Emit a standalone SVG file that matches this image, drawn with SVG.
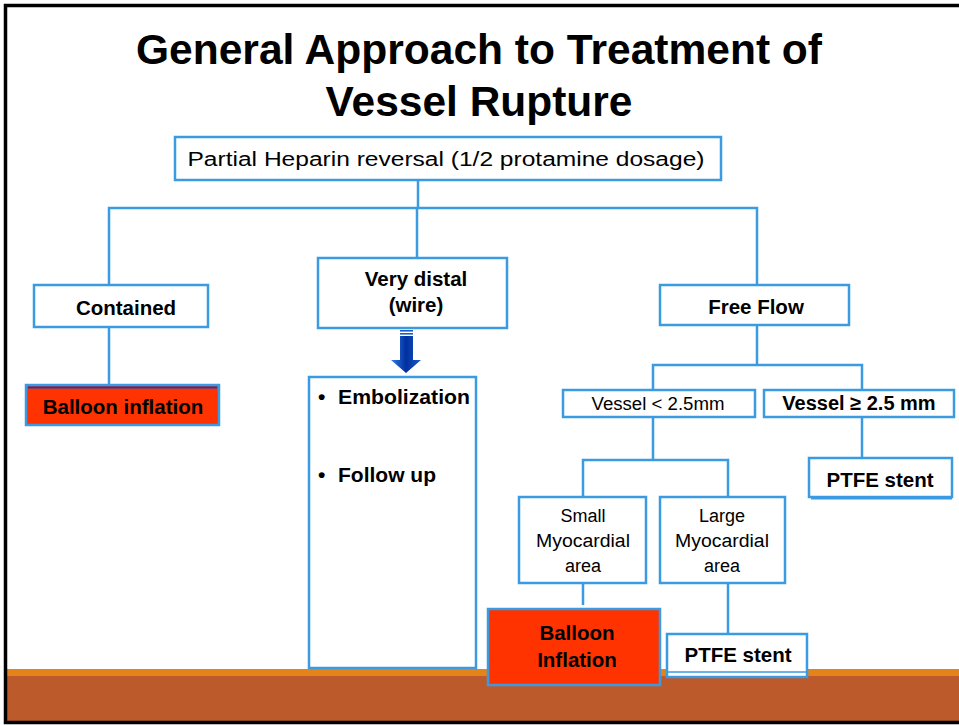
<svg xmlns="http://www.w3.org/2000/svg" width="959" height="725" viewBox="0 0 959 725">
<style>
.box{fill:#fff;stroke:#3A9BE2;stroke-width:2.5}
.red{fill:#FF3300;stroke:#3A9BE2;stroke-width:2.5}
.con{fill:none;stroke:#3A9BE2;stroke-width:2.5}
.b{font-family:"Liberation Sans",Arial,sans-serif;font-weight:bold;font-size:20.5px;fill:#000;text-anchor:middle}
.bl{font-family:"Liberation Sans",Arial,sans-serif;font-weight:bold;font-size:21px;fill:#000}
.r{font-family:"Liberation Sans",Arial,sans-serif;font-size:18px;fill:#000;text-anchor:middle}
.t{font-family:"Liberation Sans",Arial,sans-serif;font-weight:bold;font-size:42px;fill:#000;text-anchor:middle}
</style>
<defs>
<linearGradient id="ag" x1="0" y1="0" x2="1" y2="0">
<stop offset="0" stop-color="#2F7FE6"/>
<stop offset="0.5" stop-color="#002F9E"/>
<stop offset="1" stop-color="#1A5CC8"/>
</linearGradient>
</defs>
<rect x="0" y="0" width="959" height="725" fill="#fff"/>
<rect x="7" y="669" width="952" height="8" fill="#E4831A"/>
<rect x="7" y="676" width="952" height="46" fill="#BD5A2C"/>
<rect x="5.5" y="5.5" width="960" height="717" fill="none" stroke="#000" stroke-width="3.5"/>
<g id="title">
<text class="t" x="479" y="64" textLength="686" lengthAdjust="spacingAndGlyphs">General Approach to Treatment of</text>
<text class="t" x="479" y="116" textLength="307" lengthAdjust="spacingAndGlyphs">Vessel Rupture</text>
</g>
<g id="connectors">
<path class="con" d="M418 180V208M109 285V208H757V285M417 208V258"/>
<path class="con" d="M109 327V385"/>
<path class="con" d="M757 325V365M653 390V365H862V390"/>
<path class="con" d="M653 417V460M583 497V460H728V497"/>
<path class="con" d="M862 417V458"/>
<path class="con" d="M583 583V605"/>
<path class="con" d="M728 583V634"/>
<g id="arrow">
<rect x="400" y="330" width="13" height="1.6" fill="#1A5CC8"/>
<rect x="400" y="333" width="13" height="1.6" fill="#1A5CC8"/>
<polygon points="400,336 413,336 413,360 421,360 406,373 391,360 400,360" fill="url(#ag)"/>
</g>
</g>
<g id="heparin">
<rect class="box" x="175" y="137" width="546" height="43"/>
<text class="r" x="446" y="166" style="font-size:20px" textLength="517" lengthAdjust="spacingAndGlyphs">Partial Heparin reversal (1/2 protamine dosage)</text>
</g>
<g id="contained">
<rect class="box" x="34" y="285" width="174" height="42"/>
<text class="b" x="126" y="315">Contained</text>
</g>
<g id="balloon1">
<rect class="red" x="26" y="385" width="193" height="40"/>
<line x1="28" y1="387.5" x2="217" y2="387.5" stroke="#1B3CB8" stroke-width="2"/>
<text class="b" x="123" y="414">Balloon inflation</text>
</g>
<g id="distal">
<rect class="box" x="318" y="258" width="189" height="70"/>
<text class="b" x="416" y="286">Very distal</text>
<text class="b" x="416" y="312">(wire)</text>
</g>
<g id="emboli">
<rect class="box" x="309" y="377" width="167" height="291"/>
<text class="bl" x="318" y="404">•</text>
<text class="bl" x="338" y="404" textLength="132" lengthAdjust="spacingAndGlyphs">Embolization</text>
<text class="bl" x="318" y="482">•</text>
<text class="bl" x="338" y="482">Follow up</text>
</g>
<g id="freeflow">
<rect class="box" x="660" y="285" width="189" height="40"/>
<text class="b" x="756" y="314">Free Flow</text>
</g>
<g id="vsmall">
<rect class="box" x="563" y="390" width="192" height="27"/>
<text class="r" x="658" y="410" textLength="133" lengthAdjust="spacingAndGlyphs">Vessel &lt; 2.5mm</text>
</g>
<g id="vlarge">
<rect class="box" x="764" y="390" width="190" height="27"/>
<text class="b" x="859" y="410" style="font-size:20px">Vessel ≥ 2.5 mm</text>
</g>
<g id="ptfe1">
<rect class="box" x="809" y="458" width="143" height="39"/>
<line x1="811" y1="498" x2="952" y2="498" stroke="#3A9BE2" stroke-width="3"/>
<text class="b" x="880" y="487">PTFE stent</text>
</g>
<g id="smallmyo">
<rect class="box" x="519" y="497" width="127" height="86"/>
<text class="r" x="583" y="522">Small</text>
<text class="r" x="583" y="547" textLength="94" lengthAdjust="spacingAndGlyphs">Myocardial</text>
<text class="r" x="583" y="572">area</text>
</g>
<g id="largemyo">
<rect class="box" x="660" y="497" width="125" height="86"/>
<text class="r" x="722" y="522">Large</text>
<text class="r" x="722" y="547" textLength="94" lengthAdjust="spacingAndGlyphs">Myocardial</text>
<text class="r" x="722" y="572">area</text>
</g>
<g id="balloon2">
<rect class="red" x="488" y="609" width="172" height="76"/>
<text class="b" x="577" y="640">Balloon</text>
<text class="b" x="577" y="667">Inflation</text>
</g>
<g id="ptfe2">
<rect x="667" y="634" width="140" height="43" fill="#fff" stroke="#3A9BE2" stroke-width="2.5"/>
<line x1="668" y1="672" x2="806" y2="672" stroke="#3A9BE2" stroke-width="1.5"/>
<text class="b" x="738" y="662">PTFE stent</text>
</g>
</svg>
